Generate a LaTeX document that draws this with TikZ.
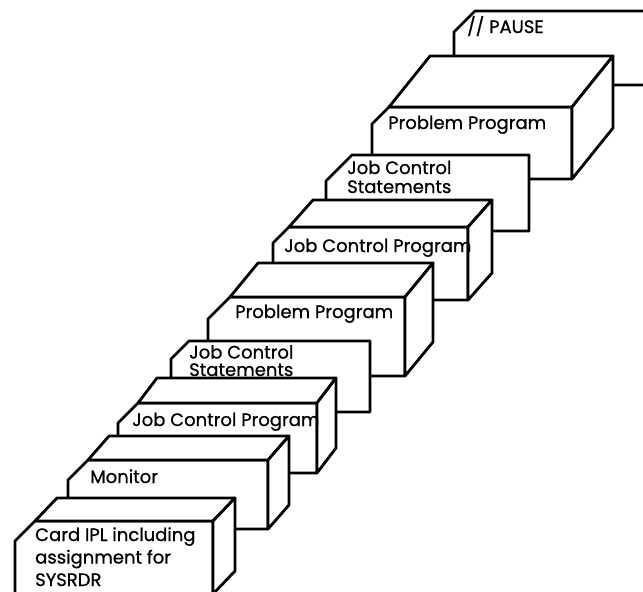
\documentclass[tikz,border=0pt]{standalone}
\usepackage{fontspec}
\setmainfont{Poppins}[FakeBold=0.8]
\begin{document}
\begin{tikzpicture}[x=1pt, y=-1pt,
    deck/.style = {draw, fill=white, line width=2.8pt, line join=round},
    lbl/.style = {anchor=base west, inner sep=0pt, align=left, font=\fontsize{18}{22.5}\selectfont}]
    \fill[white] (0,0) rectangle (643,592);
    \clip (0,0) rectangle (643,592);
    % decks from the back one to the front one: left/right/top/bottom/depth x/depth y/corner
    \foreach \xa/\xb/\yt/\yb/\dx/\dy/\c in {454/700/11/85/0/0/21, 372/572/107/179/41/51/17,
        326/529/155/231/0/0/26, 273/468/227/300/24/27/16, 208/405/297/376/28/34/22,
        171/370/341/412/0/0/18, 118/317/403/473/19/25/20, 68/268/460/529/21/24/20,
        15/213/521/594/22/23/20} {
        \draw[deck] (\xa,\yb) -- (\xa,\yt+\c) -- (\xa+\c,\yt) -- (\xb,\yt) -- (\xb,\yb) -- cycle;
        \draw[deck] (\xa+\c,\yt) -- (\xa+\c+\dx,\yt-\dy) -- (\xb+\dx,\yt-\dy) -- (\xb,\yt) -- cycle;
        \draw[deck] (\xb,\yt) -- (\xb+\dx,\yt-\dy) -- (\xb+\dx,\yb-\dy) -- (\xb,\yb) -- cycle;
    }
    % multi-line labels sit on the baseline of their last line
    \node[lbl] (pause) at (467,33) {// PAUSE};
    \node[lbl] (pp2) at (388,129) {Problem Program};
    \node[lbl, font=\fontsize{18}{19}\selectfont] (jcs2) at (347,193) {Job Control\\Statements};
    \node[lbl] (jcp2) at (284,252) {Job Control Program};
    \node[lbl] (pp1) at (235,318) {Problem Program};
    \node[lbl, font=\fontsize{18}{17.5}\selectfont] (jcs1) at (189,376) {Job Control\\Statements};
    \node[lbl] (jcp1) at (132,426) {Job Control Program};
    \node[lbl] (mon) at (90,483) {Monitor};
    \node[lbl] (ipl) at (35,586) {Card IPL including\\assignment for\\SYSRDR};
\end{tikzpicture}
\end{document}
